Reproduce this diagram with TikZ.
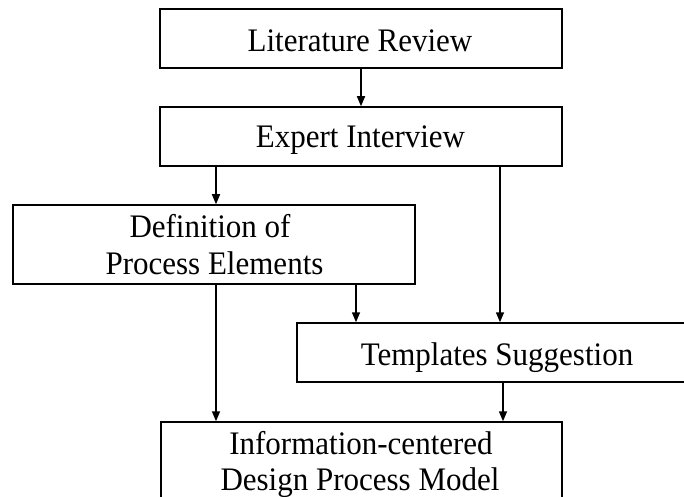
\documentclass[tikz,border=0pt]{standalone}
\usepackage{fontspec}
\setmainfont{Liberation Serif}
\usetikzlibrary{arrows.meta}
\newcommand{\tallt}[1]{\scalebox{1}[1.06]{#1}}
\tikzset{
  box/.style={draw=black, line width=1.5bp, rectangle, inner sep=0pt, minimum width=402bp},
  lbl/.style={inner sep=0pt, anchor=base, font=\fontsize{31bp}{37bp}\selectfont},
  conn/.style={line width=1.5bp, -{Triangle[length=10bp,width=8bp]}}
}
\begin{document}
\begin{tikzpicture}[x=1bp,y=-1bp]
\useasboundingbox (0,0) rectangle (684,497);
\clip (0,0) rectangle (684,497);
\fill[white] (0,0) rectangle (684,497);
% boxes
\node[box, minimum height=59bp] (lit) at (361,38.5) {};
\node[box, minimum height=59bp] (exp) at (361,136.5) {};
\node[box, minimum height=79bp] (def) at (214,244.5) {};
\node[box, minimum height=59bp] (tmp) at (498,352.5) {};
\node[box, minimum height=79bp, minimum width=401bp] (inf) at (361.5,461.5) {};
% texts
\node[lbl] (tlit) at (360,51.5) {\tallt{Literature Review}};
\node[lbl] (texp) at (360.5,148) {\tallt{Expert Interview}};
\node[lbl] (tdefa) at (210,238) {\tallt{Definition of}};
\node[lbl] (tdefb) at (214.5,274) {\tallt{Process Elements}};
\node[lbl] (ttmp) at (497,365) {\tallt{Templates Suggestion}};
\node[lbl] (tinfa) at (361,454.5) {\tallt{Information-centered}};
\node[lbl] (tinfb) at (360,490) {\tallt{Design Process Model}};
% connectors
\draw[conn] (lit.south) -- (exp.north);
\draw[conn] (exp.south -| 216,0) -- (def.north -| 216,0);
\draw[conn] (exp.south -| 500,0) -- (tmp.north -| 500,0);
\draw[conn] (def.south -| 356,0) -- (tmp.north -| 356,0);
\draw[conn] (def.south -| 216,0) -- (inf.north -| 216,0);
\draw[conn] (tmp.south -| 503,0) -- (inf.north -| 503,0);
\end{tikzpicture}
\end{document}
